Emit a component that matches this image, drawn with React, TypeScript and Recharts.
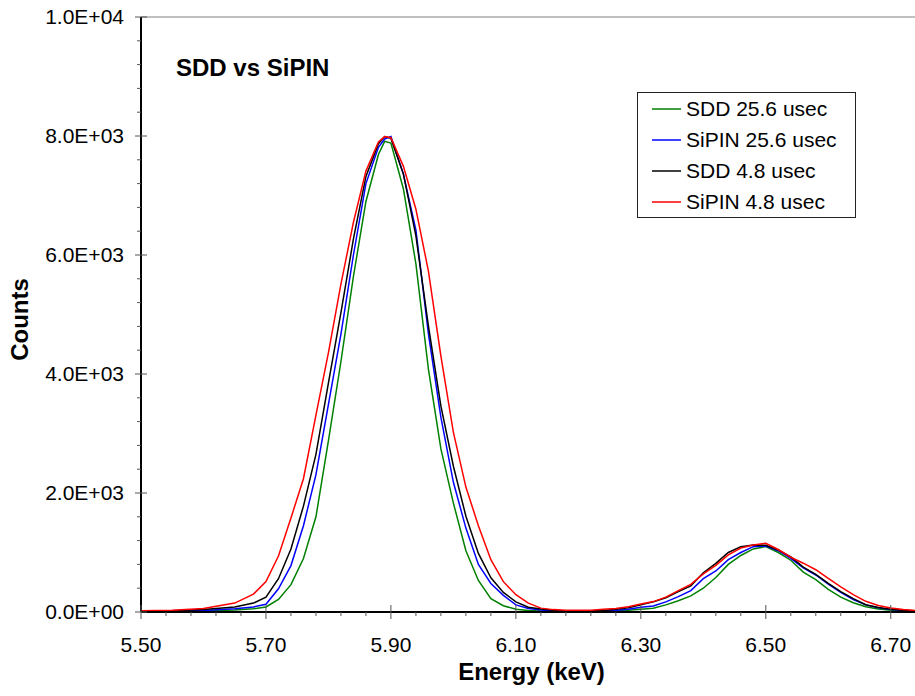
import { LineChart, Line, XAxis, YAxis, ReferenceLine, Legend, Label } from 'recharts'

const FONT = "'Liberation Sans', Arial, sans-serif"

// energy grid (keV)
const energy = [
  5.5, 5.55, 5.6, 5.65, 5.68, 5.7, 5.72, 5.74, 5.76, 5.78, 5.8, 5.82, 5.84, 5.86, 5.88, 5.89,
  5.9, 5.92, 5.94, 5.96, 5.98, 6.0, 6.02, 6.04, 6.06, 6.08, 6.1, 6.12, 6.14, 6.16, 6.18, 6.2,
  6.22, 6.24, 6.26, 6.28, 6.3, 6.32, 6.34, 6.36, 6.38, 6.4, 6.42, 6.44, 6.46, 6.48, 6.5, 6.52,
  6.54, 6.56, 6.58, 6.6, 6.62, 6.64, 6.66, 6.68, 6.7, 6.72, 6.74,
]

const sdd256 = [
  5, 8, 15, 35, 55, 85, 210, 460, 900, 1600, 2880, 4210, 5640, 6900, 7690, 7910,
  7880, 7110, 5850, 4080, 2740, 1830, 1030, 530, 225, 105, 45, 25, 15, 10, 8, 8,
  8, 10, 18, 28, 45, 62, 120, 190, 270, 400, 580, 800, 950, 1060, 1100, 1000,
  870, 670, 545, 380, 250, 155, 87, 50, 30, 20, 12,
]

const sipin256 = [
  8, 12, 25, 55, 85, 130, 390, 780, 1450, 2310, 3490, 4670, 6000, 7200, 7810, 7950,
  7990, 7360, 6420, 4680, 3270, 2180, 1410, 800, 480, 280, 120, 60, 35, 20, 12, 10,
  12, 18, 30, 45, 80, 101, 170, 258, 360, 560, 690, 880, 1000, 1098, 1110, 1030,
  900, 740, 622, 470, 330, 210, 120, 70, 40, 28, 18,
]

const sdd48 = [
  10, 20, 40, 85, 150, 250, 560, 1060, 1780, 2650, 3850, 5030, 6270, 7320, 7870, 7990,
  7960, 7360, 6320, 4810, 3460, 2450, 1610, 985, 575, 330, 170, 80, 50, 30, 15, 12,
  15, 25, 45, 70, 120, 170, 240, 342, 440, 660, 818, 1000, 1098, 1126, 1120, 1040,
  925, 755, 632, 480, 344, 224, 122, 75, 45, 30, 20,
]

const sipin48 = [
  20, 30, 60, 150, 300, 510, 940, 1580, 2240, 3310, 4360, 5510, 6550, 7410, 7900, 7990,
  7970, 7490, 6770, 5730, 4300, 3020, 2100, 1450, 880, 510, 290, 150, 65, 40, 28, 28,
  30, 45, 60, 90, 134, 175, 250, 360, 465, 640, 785, 960, 1075, 1126, 1154, 1050,
  920, 820, 710, 564, 423, 293, 180, 109, 66, 42, 25,
]

const seriesNames = ['SDD 25.6 usec', 'SiPIN 25.6 usec', 'SDD 4.8 usec', 'SiPIN 4.8 usec']
const seriesKeys = ['sdd256', 'sipin256', 'sdd48', 'sipin48']
const seriesColors = ['#008000', '#0000ff', '#000000', '#ff0000']

const xMajorTicks = [5.5, 5.7, 5.9, 6.1, 6.3, 6.5, 6.7]
const xTicks = [
  5.5, 5.54, 5.58, 5.62, 5.66, 5.7, 5.74, 5.78, 5.82, 5.86, 5.9, 5.94, 5.98, 6.02, 6.06, 6.1,
  6.14, 6.18, 6.22, 6.26, 6.3, 6.34, 6.38, 6.42, 6.46, 6.5, 6.54, 6.58, 6.62, 6.66, 6.7, 6.74,
]
const yMajorTicks = [0, 2000, 4000, 6000, 8000, 10000]
const yTicks = Array.from({ length: 26 }, (_, i) => i * 400)

const data = energy.map((e, i) => ({
  energy: e,
  sdd256: sdd256[i],
  sipin256: sipin256[i],
  sdd48: sdd48[i],
  sipin48: sipin48[i],
}))

const isMajor = (list: number[], v: number) => list.some((m) => Math.abs(m - v) < 1e-6)

function XTick(props: any) {
  const { x, y, payload } = props
  const major = isMajor(xMajorTicks, payload.value)
  return (
    <g>
      <line x1={x} x2={x} y1={major ? y - 7 : y} y2={major ? y + 7 : y + 4} stroke="#555" strokeWidth={1} />
      {major && (
        <text x={x} y={y + 40} textAnchor="middle" fontFamily={FONT} fontSize={21} fill="#000">
          {payload.value.toFixed(2)}
        </text>
      )}
    </g>
  )
}

function YTick(props: any) {
  const { x, y, payload } = props
  const major = isMajor(yMajorTicks, payload.value)
  return (
    <g>
      <line x1={major ? x - 6 : x - 4} x2={major ? x + 6 : x} y1={y} y2={y} stroke="#555" strokeWidth={1} />
      {major && (
        <text x={x - 17} y={y} dy="0.355em" textAnchor="end" fontFamily={FONT} fontSize={21} fill="#000">
          {payload.value.toExponential(1).replace('e+', 'E+').replace(/E\+(\d)$/, 'E+0$1')}
        </text>
      )}
    </g>
  )
}

function LegendBox() {
  return (
    <div
      style={{
        border: '1px solid #222',
        background: '#fff',
        width: 217,
        fontFamily: FONT,
        fontSize: 21,
      }}
    >
      {seriesNames.map((name, i) => (
        <div key={name} style={{ height: 31, display: 'flex', alignItems: 'center' }}>
          <svg width={29} height={4} style={{ marginLeft: 14, display: 'block' }}>
            <line x1={0} x2={29} y1={2} y2={2} stroke={seriesColors[i]} strokeWidth={1.5} />
          </svg>
          <span style={{ marginLeft: 5, color: '#000' }}>{name}</span>
        </div>
      ))}
    </div>
  )
}

export default function App() {
  return (
    <div style={{ position: 'absolute', left: 0, top: 0, width: 915, height: 696, overflow: 'hidden', background: '#fff' }}>
      <LineChart width={922} height={696} data={data} margin={{ top: 17, right: 0, bottom: 0, left: 0 }}>
        <XAxis
          type="number"
          dataKey="energy"
          domain={[5.5, 6.75]}
          ticks={xTicks}
          interval={0}
          tick={<XTick />}
          tickLine={false}
          tickSize={0}
          tickMargin={0}
          axisLine={{ stroke: '#000', strokeWidth: 2 }}
          height={84}
        >
          <Label
            content={({ viewBox }: any) => (
              <text
                x={viewBox.x + viewBox.width / 2}
                y={viewBox.y + 68}
                textAnchor="middle"
                fontFamily={FONT}
                fontSize={24}
                fontWeight="bold"
                fill="#000"
              >
                Energy (keV)
              </text>
            )}
          />
        </XAxis>
        <YAxis
          type="number"
          domain={[0, 10000]}
          ticks={yTicks}
          interval={0}
          tick={<YTick />}
          tickLine={false}
          tickSize={0}
          tickMargin={0}
          axisLine={{ stroke: '#000', strokeWidth: 2 }}
          width={141}
        >
          <Label
            content={({ viewBox }: any) => {
              const cx = 28
              const cy = viewBox.y + viewBox.height / 2 + 5
              return (
                <text
                  x={cx}
                  y={cy}
                  transform={`rotate(-90, ${cx}, ${cy})`}
                  textAnchor="middle"
                  fontFamily={FONT}
                  fontSize={24}
                  fontWeight="bold"
                  fill="#000"
                >
                  Counts
                </text>
              )
            }}
          />
        </YAxis>
        <ReferenceLine y={10000} stroke="#808080" strokeWidth={1} />
        {seriesKeys.map((k, i) => (
          <Line
            key={k}
            type="linear"
            dataKey={k}
            name={seriesNames[i]}
            stroke={seriesColors[i]}
            strokeWidth={1.5}
            dot={false}
            isAnimationActive={false}
          />
        ))}
        <Legend
          layout="vertical"
          align="center"
          verticalAlign="middle"
          content={<LegendBox />}
          wrapperStyle={{ position: 'absolute', left: 637, top: 92, width: 219 }}
        />
      </LineChart>
      <div
        style={{
          position: 'absolute',
          left: 176,
          top: 56,
          fontFamily: FONT,
          fontSize: 24,
          fontWeight: 'bold',
          lineHeight: '24px',
          color: '#000',
        }}
      >
        SDD vs SiPIN
      </div>
    </div>
  )
}
